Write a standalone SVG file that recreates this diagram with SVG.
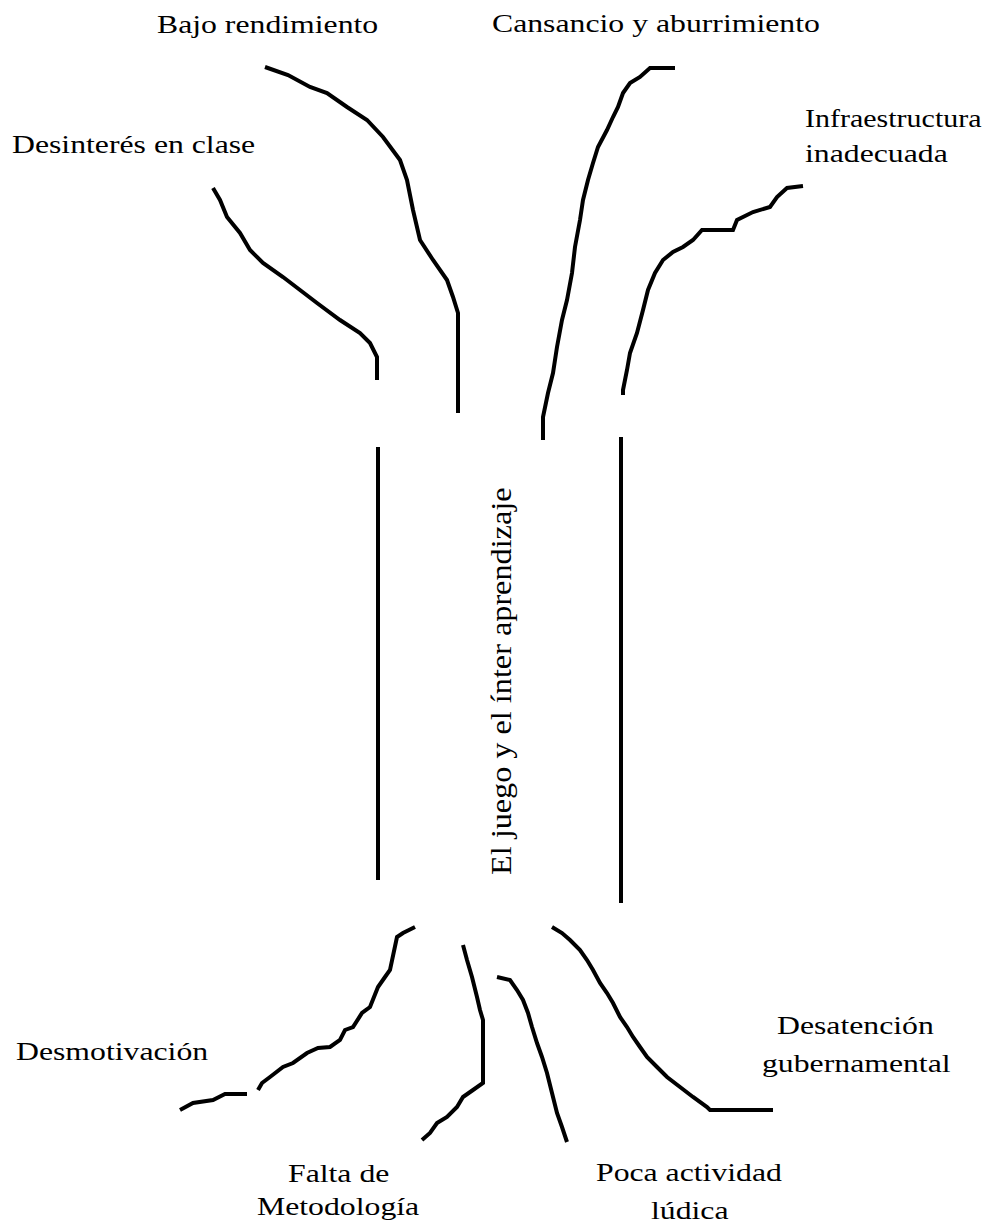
<svg xmlns="http://www.w3.org/2000/svg" width="1000" height="1230" viewBox="0 0 1000 1230">
<style>
.t{font-family:"Liberation Serif","Times New Roman",serif;font-size:25px;fill:#000}
.v{font-family:"Liberation Serif","Times New Roman",serif;font-size:30px;fill:#000}
.l{fill:none;stroke:#000;stroke-width:4;stroke-linejoin:miter;stroke-linecap:butt}
</style>
<rect width="1000" height="1230" fill="#fff"/>
<g id="connectors">
<polyline class="l" points="265,67 288,75 310,87 327,93 347,107 367,120 383,137 400,160 407,180 413,210 420,240 433,260 447,280 453,297 458,313 458,413"/>
<polyline class="l" points="213,188 220,200 227,217 240,233 250,250 263,263 283,277 300,290 317,303 340,320 360,333 370,343 377,357 377,380"/>
<polyline class="l" points="675,68 650,68 640,77 630,83 623,93 618,107 613,117 607,130 598,147 593,163 588,180 583,200 580,220 575,247 572,273 567,300 562,320 557,347 553,373 548,393 543,417 543,440"/>
<polyline class="l" points="803,186 787,188 777,197 770,207 753,212 737,220 733,230 702,230 693,240 683,247 673,252 663,260 655,273 648,290 643,310 637,333 630,353 627,370 623,390 623,395"/>
<line class="l" x1="378" y1="447" x2="378" y2="880"/>
<line class="l" x1="621" y1="437" x2="621" y2="903"/>
<polyline class="l" points="180,1110 193,1103 213,1100 225,1094 247,1094"/>
<polyline class="l" points="258,1090 262,1083 270,1077 283,1067 293,1063 307,1053 318,1048 330,1047 340,1040 345,1030 353,1027 362,1013 370,1007 378,987 385,977 390,970 397,937 403,933 415,927"/>
<polyline class="l" points="463,945 467,960 472,977 477,997 480,1010 483,1020 483,1083 473,1090 463,1097 457,1107 447,1117 437,1123 430,1133 422,1140"/>
<polyline class="l" points="497,977 510,980 517,990 523,1000 528,1013 532,1027 537,1043 542,1057 547,1073 552,1093 557,1113 562,1127 567,1142"/>
<polyline class="l" points="552,927 562,933 570,940 580,950 587,960 593,970 600,983 607,993 613,1003 620,1017 627,1027 633,1037 640,1047 647,1057 657,1067 667,1077 680,1087 693,1097 707,1107 710,1110 773,1110"/>
</g>
<g id="trunk-label"><text class="v" transform="translate(511,875) rotate(-90) scale(1.075,1)">El juego y el ínter aprendizaje</text></g>
<g id="bajo"><text class="t" transform="translate(157,33) scale(1.27,1)">Bajo rendimiento</text></g>
<g id="desinteres"><text class="t" transform="translate(12,153) scale(1.27,1)">Desinterés en clase</text></g>
<g id="cansancio"><text class="t" transform="translate(492,32) scale(1.27,1)">Cansancio y aburrimiento</text></g>
<g id="infra"><text class="t" transform="translate(805,127) scale(1.2,1)">Infraestructura</text><text class="t" transform="translate(805,162) scale(1.27,1)">inadecuada</text></g>
<g id="desmotivacion"><text class="t" transform="translate(16,1060) scale(1.27,1)">Desmotivación</text></g>
<g id="falta"><text class="t" transform="translate(288,1182) scale(1.27,1)">Falta de</text><text class="t" transform="translate(257,1215) scale(1.27,1)">Metodología</text></g>
<g id="poca"><text class="t" transform="translate(596,1181) scale(1.27,1)">Poca actividad</text><text class="t" transform="translate(651,1219) scale(1.27,1)">lúdica</text></g>
<g id="desatencion"><text class="t" transform="translate(777,1034) scale(1.27,1)">Desatención</text><text class="t" transform="translate(762,1072) scale(1.27,1)">gubernamental</text></g>
</svg>
